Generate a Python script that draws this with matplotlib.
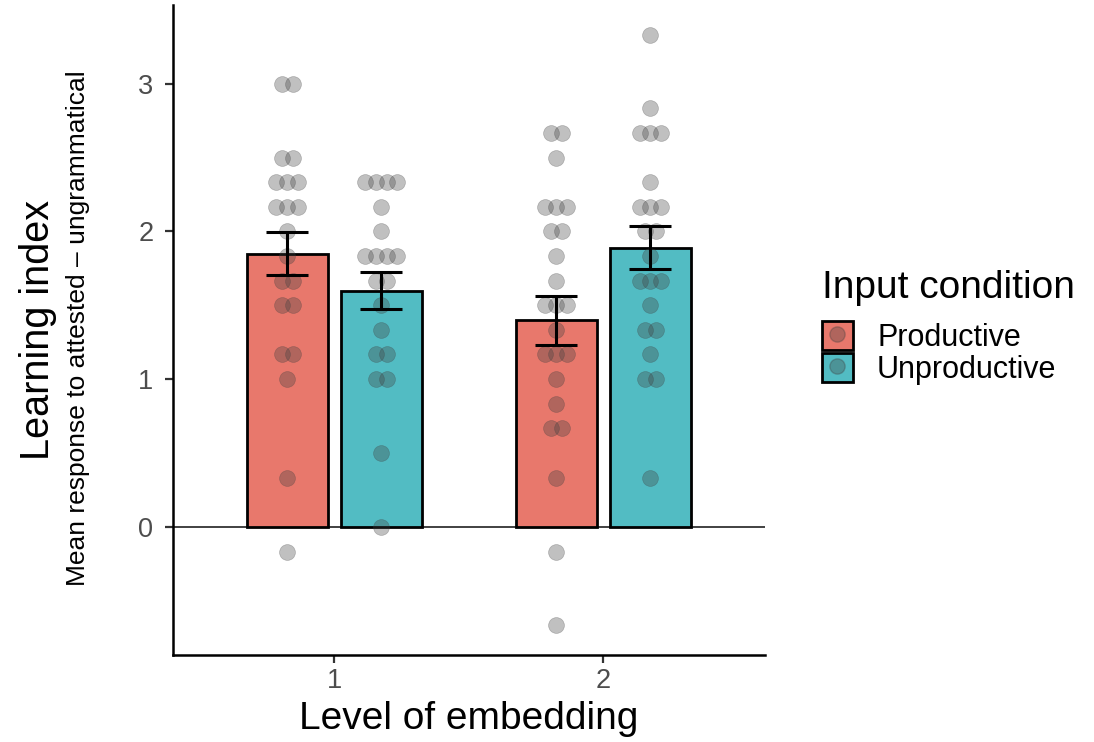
import numpy as np
import matplotlib.pyplot as plt
from matplotlib.patches import Patch
from matplotlib.lines import Line2D
from matplotlib.legend_handler import HandlerTuple

# data
levels = ['1', '2']
conditions = ['Productive', 'Unproductive']
colors = ['#E8786C', '#52BCC3']

prod_means = [1.85, 1.40]
prod_se = [0.146, 0.166]
unprod_means = [1.60, 1.89]
unprod_se = [0.125, 0.145]

prod_lvl1 = [3.0, 3.0, 2.5, 2.5, 2.333, 2.333, 2.333, 2.167, 2.167, 2.167, 2.0,
             1.833, 1.667, 1.667, 1.5, 1.5, 1.167, 1.167, 1.0, 0.333, -0.167]
unprod_lvl1 = [2.333, 2.333, 2.333, 2.333, 2.167, 2.0, 1.833, 1.833, 1.833, 1.833,
               1.667, 1.667, 1.5, 1.333, 1.167, 1.167, 1.0, 1.0, 0.5, 0.0]
prod_lvl2 = [2.667, 2.667, 2.5, 2.167, 2.167, 2.167, 2.0, 2.0, 1.833, 1.667,
             1.5, 1.5, 1.5, 1.333, 1.167, 1.167, 1.167, 1.0, 0.833, 0.667, 0.667,
             0.333, -0.167, -0.667]
unprod_lvl2 = [3.333, 2.833, 2.667, 2.667, 2.667, 2.333, 2.167, 2.167, 2.167, 2.0,
               2.0, 1.833, 1.667, 1.667, 1.667, 1.5, 1.333, 1.333, 1.167, 1.0, 1.0,
               0.333]

points = [[prod_lvl1, prod_lvl2], [unprod_lvl1, unprod_lvl2]]
means = [prod_means, unprod_means]
ses = [prod_se, unprod_se]

plt.rcParams['font.family'] = ['Liberation Sans', 'DejaVu Sans']

fig = plt.figure(figsize=(10.94, 7.42), dpi=100)
ax = fig.add_axes([0.158, 0.1173, 0.541, 0.876])

x = np.arange(1, len(levels) + 1)
dodge = 0.175
bar_w = 0.30


def spread(vals, step=0.04):
    # put points with the same value side by side
    vals = np.asarray(vals)
    offs = np.zeros(len(vals))
    for v in np.unique(vals):
        idx = np.where(vals == v)[0]
        k = len(idx)
        offs[idx] = (np.arange(k) - (k - 1) / 2) * step
    return offs


ax.axhline(0, color='#333333', lw=1.3, zorder=1)

for c in range(len(conditions)):
    xc = x + (c * 2 - 1) * dodge
    ax.bar(xc, means[c], width=bar_w, color=colors[c], edgecolor='black',
           linewidth=2.0, zorder=2)
    for i in range(len(levels)):
        vals = points[c][i]
        ax.scatter(xc[i] + spread(vals), vals, s=130, color='#404040', alpha=0.33,
                   edgecolors='#404040', linewidths=0.5, zorder=3)
    ax.errorbar(xc, means[c], yerr=ses[c], fmt='none', ecolor='black',
                elinewidth=2.2, capsize=15, capthick=2.2, zorder=4)

ax.set_xlim(0.4, 2.6)
ax.set_ylim(-0.867, 3.533)
ax.set_xticks(x)
ax.set_xticklabels(levels)
ax.set_yticks([0, 1, 2, 3])
for s in ['top', 'right']:
    ax.spines[s].set_visible(False)
for s in ['left', 'bottom']:
    ax.spines[s].set_linewidth(1.8)
ax.tick_params(labelsize=19.5, labelcolor='#4D4D4D', color='#333333',
               width=1.6, length=6)
ax.tick_params(axis='y', pad=8)

ax.set_xlabel('Level of embedding', fontsize=28, labelpad=5)

# two-line y title: big label and smaller subtitle
fig.text(38 / 1094, 1 - 330 / 742, 'Learning index', rotation=90, fontsize=28.5,
         ha='center', va='center')
fig.text(78 / 1094, 1 - 328 / 742, 'Mean response to attested \u2013 ungrammatical',
         rotation=90, fontsize=19, ha='center', va='center')

# legend title as its own text so the gap below it can be set
fig.text(822 / 1094, 1 - 288 / 742, 'Input condition', fontsize=28,
         ha='left', va='center')

handles = []
for c in range(len(conditions)):
    handles.append((Patch(facecolor=colors[c], edgecolor='black', linewidth=2.0),
                    Line2D([], [], marker='o', ls='none', markersize=11,
                           color='#404040', alpha=0.33)))
leg = fig.legend(handles, conditions, handler_map={tuple: HandlerTuple(ndivide=1)},
                 loc='upper left', bbox_to_anchor=(822 / 1094, 1 - 321 / 742),
                 frameon=False, fontsize=22, handlelength=1.0, handleheight=1.1,
                 labelspacing=0.0, handletextpad=0.8, borderpad=0,
                 borderaxespad=0)

fig.savefig('out.png', dpi=100)
